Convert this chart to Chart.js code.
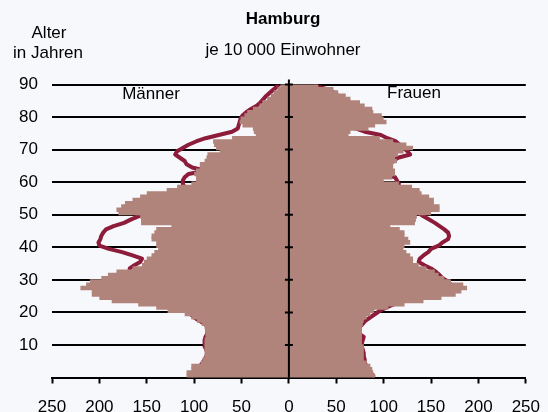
<!DOCTYPE html>
<html>
<head>
<meta charset="utf-8">
<script src="https://cdn.jsdelivr.net/npm/chart.js@4.4.1/dist/chart.umd.min.js"></script>
<style>
  html, body { margin: 0; padding: 0; background: #f7f8fc; }
</style>
</head>
<body>
<canvas id="pyramid" width="548" height="412"></canvas>
<script>
// Altersjahre 0..89 (je Balken ein Jahrgang)
const AGES = [
  0, 1, 2, 3, 4, 5, 6, 7, 8, 9, 10, 11, 12, 13, 14, 15, 16, 17, 18, 19,
  20, 21, 22, 23, 24, 25, 26, 27, 28, 29, 30, 31, 32, 33, 34, 35, 36, 37, 38, 39,
  40, 41, 42, 43, 44, 45, 46, 47, 48, 49, 50, 51, 52, 53, 54, 55, 56, 57, 58, 59,
  60, 61, 62, 63, 64, 65, 66, 67, 68, 69, 70, 71, 72, 73, 74, 75, 76, 77, 78, 79,
  80, 81, 82, 83, 84, 85, 86, 87, 88, 89
];
const AGE_TICKS = [10, 20, 30, 40, 50, 60, 70, 80, 90];

// Hamburg, je 10 000 Einwohner (Balken)
const MEN_BARS = [
  108, 108, 103, 103, 93, 91, 89, 89, 89, 89,
  89, 89, 88, 88, 88, 89, 92, 97, 103, 110,
  128, 140, 159, 187, 200, 208, 208, 220, 214, 210,
  198, 191, 182, 165, 155, 153, 150, 145, 142, 138,
  140, 140, 145, 145, 142, 140, 124, 156, 156, 157,
  180, 182, 177, 173, 165, 157, 150, 129, 118, 103,
  98, 98, 100, 98, 94, 94, 89, 87, 86, 73,
  77, 79, 80, 60, 35, 37, 38, 49, 52, 51,
  47, 44, 38, 31, 28, 23, 19, 16, 12, 9
];
const WOMEN_BARS = [
  91, 89, 88, 86, 82, 79, 79, 79, 79, 79,
  77, 77, 77, 77, 77, 77, 78, 79, 82, 86,
  90, 105, 122, 142, 161, 176, 182, 188, 184, 171,
  164, 158, 154, 145, 137, 131, 131, 128, 124, 121,
  122, 128, 126, 122, 122, 117, 107, 133, 134, 135,
  150, 159, 159, 153, 153, 148, 140, 138, 130, 116,
  100, 109, 112, 112, 110, 110, 114, 112, 115, 121,
  131, 124, 110, 96, 63, 65, 84, 91, 103, 100,
  98, 89, 88, 80, 75, 65, 60, 52, 47, 31
];

// Vergleichslinie
const MEN_LINE = [
  102, 100, 97, 94, 91, 89, 87, 86, 87, 89,
  89, 89, 88, 86, 86, 86, 89, 95, 100, 104,
  108, 113, 119, 125, 130, 139, 147, 160, 167, 170,
  169, 168, 168, 168, 163, 157, 155, 165, 176, 190,
  200, 201, 199, 198, 196, 193, 185, 174, 167, 159,
  151, 143, 136, 129, 123, 116, 111, 108, 110, 112,
  112, 110, 106, 88, 102, 108, 110, 115, 120, 118,
  112, 106, 98, 88, 74, 60, 54, 53, 52, 51,
  49, 45, 40, 34, 30, 27, 24, 20, 16, 12
];
const WOMEN_LINE = [
  89, 86, 84, 82, 80, 80, 79, 79, 78, 77,
  77, 78, 79, 74, 74, 75, 78, 81, 86, 91,
  96, 103, 111, 121, 131, 143, 152, 162, 171, 168,
  162, 159, 155, 150, 143, 137, 138, 142, 147, 150,
  158, 162, 168, 169, 168, 164, 159, 154, 148, 142,
  137, 132, 128, 123, 115, 108, 107, 107, 108, 116,
  114, 112, 100, 88, 97, 107, 110, 115, 128, 125,
  121, 117, 113, 104, 97, 80, 70, 70, 73, 74,
  75, 72, 68, 66, 64, 58, 52, 48, 42, 28
];

const BAR_COLOR = '#b0847b';
const LINE_COLOR = '#8c1c3a';
const BG_COLOR = '#f7f8fc';
const FONT = '"Liberation Sans", Arial, sans-serif';

const toPoints = (values, sign) => AGES.map((a, i) => ({ x: sign * values[i], y: a + 0.5 }));

// Titel, Beschriftungen und die Mittelachse mit ihren Strichen
const pyramidDecor = {
  id: 'pyramidDecor',
  beforeDraw(chart) {
    const { ctx, width, height } = chart;
    ctx.save();
    ctx.fillStyle = BG_COLOR;
    ctx.fillRect(0, 0, width, height);
    ctx.restore();
  },
  afterDatasetsDraw(chart) {
    const { ctx, scales: { x, y } } = chart;
    const cx = x.getPixelForValue(0);
    ctx.save();
    ctx.strokeStyle = '#000';
    ctx.lineWidth = 2;
    ctx.beginPath();
    ctx.moveTo(cx, y.getPixelForValue(90) - 5);
    ctx.lineTo(cx, y.getPixelForValue(0));
    AGE_TICKS.forEach(a => {
      const py = y.getPixelForValue(a);
      ctx.moveTo(cx - 4, py);
      ctx.lineTo(cx + 4, py);
    });
    ctx.stroke();
    ctx.restore();
  },
  afterDraw(chart) {
    const { ctx } = chart;
    ctx.save();
    ctx.fillStyle = '#000';
    ctx.textAlign = 'center';
    ctx.textBaseline = 'middle';
    ctx.font = 'bold 17px ' + FONT;
    ctx.fillText('Hamburg', 283, 19);
    ctx.font = '17px ' + FONT;
    ctx.fillText('je 10 000 Einwohner', 283, 50);
    ctx.fillText('Alter', 49, 33);
    ctx.fillText('in Jahren', 48, 53);
    ctx.fillText('Männer', 151, 94);
    ctx.fillText('Frauen', 414, 93);
    ctx.restore();
  }
};

function renderPyramid() {
  const barStyle = {
    backgroundColor: BAR_COLOR, borderWidth: 0, grouped: false,
    barPercentage: 1.4, categoryPercentage: 1,
  };
  const lineStyle = {
    type: 'line', borderColor: LINE_COLOR, borderWidth: 4,
    pointRadius: 0, tension: 0, fill: false, borderJoinStyle: 'round', borderCapStyle: 'round',
  };

  new Chart(document.getElementById('pyramid'), {
    type: 'bar',
    data: {
      datasets: [
        { label: 'Männer', data: toPoints(MEN_BARS, -1), ...barStyle },
        { label: 'Frauen', data: toPoints(WOMEN_BARS, 1), ...barStyle },
        { label: 'Männer Linie', data: toPoints(MEN_LINE, -1), ...lineStyle },
        { label: 'Frauen Linie', data: toPoints(WOMEN_LINE, 1), ...lineStyle },
      ]
    },
    options: {
      indexAxis: 'y',
      responsive: false,
      animation: false,
      layout: { padding: { top: 84.5, right: 19, bottom: 0, left: 0 } },
      plugins: { legend: { display: false }, tooltip: { enabled: false } },
      scales: {
        x: {
          type: 'linear', min: -250, max: 250,
          afterFit: s => { s.height = 34.5; },
          ticks: {
            stepSize: 50, padding: 8, color: '#000', maxRotation: 0,
            font: { family: FONT, size: 17, lineHeight: 1.9 },
            callback: v => Math.abs(v),
          },
          grid: { drawOnChartArea: false, drawTicks: true, tickLength: 6, tickWidth: 2, color: '#000' },
          border: { display: true, color: '#000', width: 2 },
        },
        y: {
          type: 'linear', min: 0, max: 90, offset: false,
          afterFit: s => { s.width = 52; },
          ticks: {
            stepSize: 10, padding: 14, color: '#000',
            font: { family: FONT, size: 17 },
            callback: v => (v === 0 ? '' : v),
          },
          grid: { offset: false, drawTicks: false, color: '#000', lineWidth: 2 },
          border: { display: false },
        }
      }
    },
    plugins: [pyramidDecor]
  });
}

document.addEventListener('DOMContentLoaded', renderPyramid);
</script>
</body>
</html>
